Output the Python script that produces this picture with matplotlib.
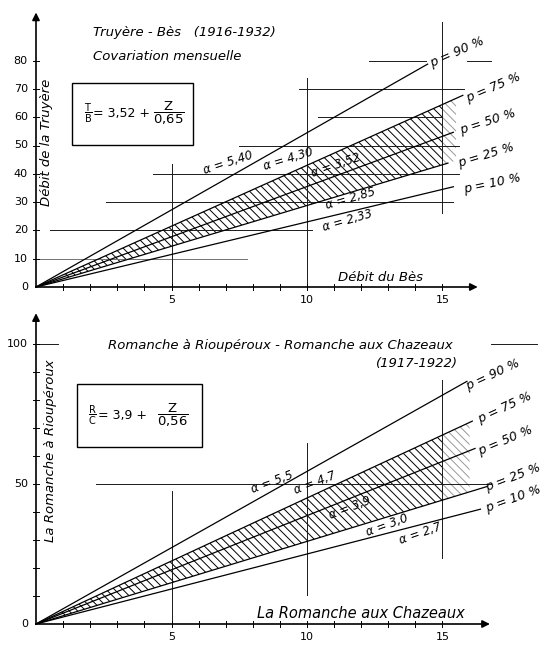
import numpy as np
import matplotlib.pyplot as plt
from matplotlib.patches import Rectangle

# --- données ---
pct_labels = ["p = 90 %", "p = 75 %", "p = 50 %", "p = 25 %", "p = 10 %"]

# Truyère - Bès
top_slopes = [5.45, 4.30, 3.55, 2.88, 2.30]
top_line_end = [14.45, 15.75, 15.4, 15.2, 15.4]
top_alpha = ["α = 5,40", "α = 4,30", "α = 3,52", "α = 2,85", "α = 2,33"]
top_yticks = [0, 10, 20, 30, 40, 50, 60, 70, 80]

# Romanche
bot_slopes = [5.45, 4.50, 3.87, 2.95, 2.50]
bot_line_end = [15.9, 16.1, 16.2, 16.65, 16.4]
bot_alpha = ["α = 5,5", "α = 4,7", "α = 3,9", "α = 3,0", "α = 2,7"]
bot_yticks = [0, 50, 100]

xticks = [5, 10, 15]

# segments de quadrillage (y, x0, x1) et (x, y0, y1)
top_hgrid = [(10, 0, 7.8), (20, 0.5, 10.2), (30, 2.6, 15.4), (40, 4.3, 15.6),
             (50, 7.5, 15.6), (60, 10.4, 15.0), (70, 9.7, 15.8),
             (80, 12.3, 14.4), (80, 15.9, 16.8)]
top_vgrid = [(5, 0, 43.5), (10, 0, 74), (15, 26, 93.6)]
bot_hgrid = [(100, 0, 0.8), (100, 16.8, 18.5), (50, 2.2, 16.8)]
bot_vgrid = [(5, 0, 47.5), (10, 10.5, 64.5), (15, 23.5, 87)]

PX = 27.1  # pixels par unité en x
FIG_W, FIG_H = 546, 646

fig = plt.figure(figsize=(FIG_W / 100, FIG_H / 100), dpi=100)
plt.rcParams['hatch.linewidth'] = 0.7

ital = dict(family='DejaVu Sans', style='italic', color='k')
num = dict(family='DejaVu Sans', color='k', fontsize=8)


def make_axes(py0, py1, origin_py, py_per_unit):
    ax = fig.add_axes([0, 1 - py1 / FIG_H, 1, (py1 - py0) / FIG_H])
    ax.set_xlim(-36 / PX, (FIG_W - 36) / PX)
    ax.set_ylim((origin_py - py1) / py_per_unit, (origin_py - py0) / py_per_unit)
    ax.axis('off')
    return ax


def draw_panel(ax, slopes, ends, alphas, alpha_pos, pct_pos, hgrid, vgrid,
               ytick_major, ymax_tick, ylabel_step, x_arrow, y_arrow, pyu,
               hatch_x0, hatch_extra):
    # quadrillage partiel
    for y, x0, x1 in hgrid:
        c = '0.45' if y == 10 else '0.1'
        ax.plot([x0, x1], [y, y], color=c, lw=0.7)
    for x, y0, y1 in vgrid:
        ax.plot([x, x], [y0, y1], color='0.1', lw=0.7)

    # axes avec flèches
    ax.annotate('', xy=(x_arrow, 0), xytext=(0, 0),
                arrowprops=dict(arrowstyle='-|>', lw=1.2, color='k',
                                mutation_scale=11, shrinkA=0, shrinkB=0))
    ax.annotate('', xy=(0, y_arrow), xytext=(0, 0),
                arrowprops=dict(arrowstyle='-|>', lw=1.2, color='k',
                                mutation_scale=11, shrinkA=0, shrinkB=0))
    tx = 3 / pyu
    for i in range(1, int(x_arrow)):
        ax.plot([i, i], [-tx, tx], color='k', lw=0.7)
    ty = 3 / PX
    for v in range(ylabel_step, ymax_tick + 1, ylabel_step):
        ax.plot([-ty, ty], [v, v], color='k', lw=0.7)
    for v in ytick_major:
        ax.text(-0.3, v, str(v), ha='right', va='center', **num)
    for v in xticks:
        ax.text(v, -13 / pyu, str(v), ha='center', va='center', **num)

    # droites de probabilité
    for s, e in zip(slopes, ends):
        xs = np.array([0, e])
        ax.plot(xs, s * xs, color='k', lw=0.9)

    # zone hachurée entre p = 75 % et p = 25 %
    xs = np.linspace(hatch_x0, 15, 50)
    ax.fill_between(xs, slopes[3] * xs, slopes[1] * xs, facecolor='none',
                    edgecolor='k', hatch='\\\\\\\\', lw=0)
    xs2 = np.linspace(15, hatch_extra, 10)
    ax.fill_between(xs2, slopes[3] * xs2, slopes[1] * xs2, facecolor='none',
                    edgecolor='0.6', hatch='\\\\\\\\', lw=0)

    for lab, (x, y, r) in zip(pct_labels, pct_pos):
        ax.text(x, y, lab, ha='center', va='center', rotation=r,
                fontsize=9, **ital)
    for lab, (x, y, r) in zip(alphas, alpha_pos):
        ax.text(x, y, lab, ha='center', va='center', rotation=r,
                fontsize=8.5, **ital)


def equation(ax, yc, xa, xb, xc, num1, den1, mid, num2, den2):
    ax.text(xa, yc, r"$\dfrac{\mathsf{%s}}{\mathsf{%s}}$" % (num1, den1),
            ha='center', va='center', fontsize=7, family='DejaVu Sans')
    ax.text(xb, yc, mid, ha='left', va='center', fontsize=9,
            family='DejaVu Sans')
    ax.text(xc, yc, r"$\dfrac{\mathsf{%s}}{\mathsf{%s}}$" % (num2, den2),
            ha='center', va='center', fontsize=9.5, family='DejaVu Sans')


# ---------------- panneau du haut ----------------
ax1 = make_axes(0, 310, 287, 2.83)
draw_panel(ax1, top_slopes, top_line_end, top_alpha,
           [(7.08, 43.8, 18), (9.3, 45.2, 17), (11.07, 43.1, 19),
            (11.59, 31.4, 16), (11.48, 23.3, 16)],
           [(15.53, 83.0, 24), (16.86, 70.3, 23), (16.68, 58.3, 18),
            (16.6, 46.6, 17), (16.83, 36.7, 12)],
           top_hgrid, top_vgrid, top_yticks, 80, 10, 16.3, 97, 2.83,
           1.0, 15.5)
ax1.text(2.1, 89.8, "Truyère - Bès   (1916-1932)", ha='left', va='center',
         fontsize=9.5, **ital)
ax1.text(2.1, 81.3, "Covariation mensuelle", ha='left', va='center',
         fontsize=9.5, **ital)
ax1.add_patch(Rectangle((1.33, 50.2), 4.46, 21.9, fill=False, lw=1.0, ec='k'))
equation(ax1, 61.2, 1.93, 2.12, 4.9, "T", "B", "= 3,52 +", "Z", "0{,}65")
ax1.text(0.37, 51.2, "Débit de la Truyère", rotation=90, ha='center',
         va='center', fontsize=9.5, **ital)
ax1.text(12.73, 3.5, "Débit du Bès", ha='center', va='center',
         fontsize=9.5, **ital)

# ---------------- panneau du bas ----------------
ax2 = make_axes(310, 646, 624, 2.8)
draw_panel(ax2, bot_slopes, bot_line_end, bot_alpha,
           [(8.71, 50.5, 20), (10.3, 50.5, 21), (11.59, 41.6, 21),
            (12.95, 35.1, 20), (14.17, 32.3, 19)],
           [(16.86, 88.9, 25), (17.3, 77.1, 25), (17.3, 65.6, 23),
            (17.6, 52.3, 21), (17.6, 44.8, 20)],
           bot_hgrid, bot_vgrid, bot_yticks, 100, 10, 16.75, 111, 2.8,
           0.85, 16.0)
ax2.text(9.0, 99.6, "Romanche à Rioupéroux - Romanche aux Chazeaux",
         ha='center', va='center', fontsize=9.5, **ital)
ax2.text(14.06, 93.2, "(1917-1922)", ha='center', va='center',
         fontsize=9.5, **ital)
ax2.add_patch(Rectangle((1.51, 63.1), 4.62, 22.6, fill=False, lw=1.0, ec='k'))
equation(ax2, 74.4, 2.07, 2.27, 5.06, "R", "C", "= 3,9 +", "Z", "0{,}56")
ax2.text(0.52, 62.0, "La Romanche à Rioupéroux", rotation=90, ha='center',
         va='center', fontsize=9.5, **ital)
ax2.text(12.0, 3.9, "La Romanche aux Chazeaux", ha='center', va='center',
         fontsize=10.5, **ital)

fig.savefig("out.png", dpi=100, facecolor='white')
